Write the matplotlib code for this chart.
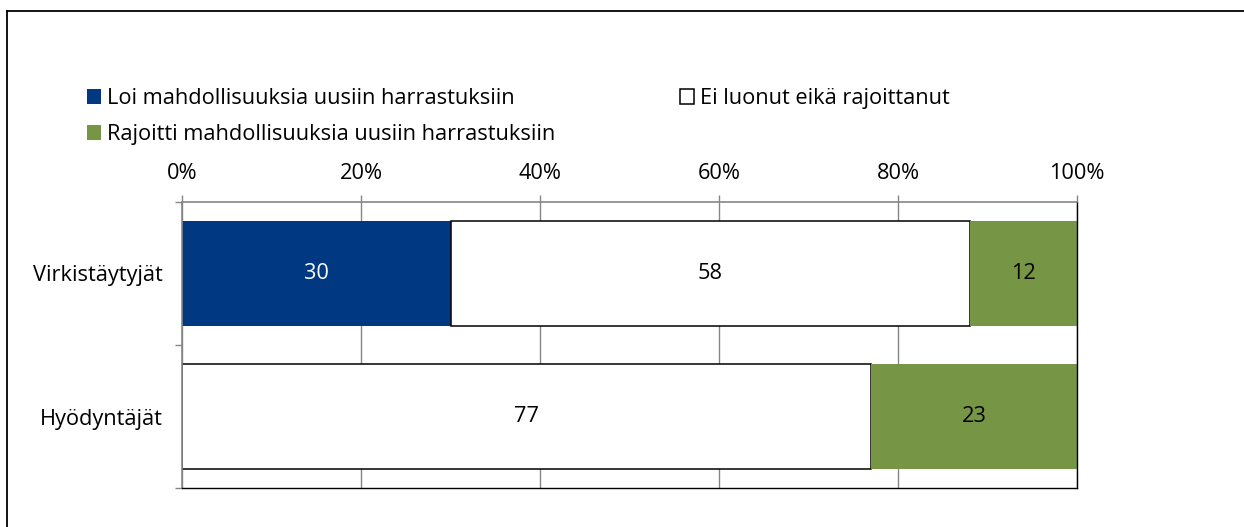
import numpy as np
import matplotlib
matplotlib.use("Agg")
import matplotlib.pyplot as plt
from matplotlib.lines import Line2D

plt.rcParams['font.family'] = ['Open Sans', 'DejaVu Sans']

# Data
groups = ["Virkistäytyjät", "Hyödyntäjät"]
series = ["Loi mahdollisuuksia uusiin harrastuksiin",
          "Ei luonut eikä rajoittanut",
          "Rajoitti mahdollisuuksia uusiin harrastuksiin"]
loi = [30, 0]
ei = [58, 77]
rajoitti = [12, 23]
x_ticks = [0, 20, 40, 60, 80, 100]

W, H = 1244, 527
fig = plt.figure(figsize=(W / 100, H / 100), dpi=100)
ax = fig.add_axes([182 / W, 1 - 488 / H, (1077 - 182) / W, (488 - 202) / H])

blue = "#003882"
green = "#779645"
grid_gray = "#868686"
fs = 15.7

y = np.arange(len(groups))
h = 0.73
left = np.zeros(len(groups))
b1 = ax.barh(y, loi, height=h, left=left, color=blue, edgecolor="none", zorder=2)
left += loi
b2 = ax.barh(y, ei, height=h, left=left, color="white", edgecolor="black",
             linewidth=1.1, zorder=2)
left += ei
b3 = ax.barh(y, rajoitti, height=h, left=left, color=green, edgecolor="none", zorder=2)

for b, vals, col in [(b1, loi, "white"), (b2, ei, "black"), (b3, rajoitti, "black")]:
    labels = [str(v) if v > 0 else "" for v in vals]
    ax.bar_label(b, labels=labels, label_type="center", color=col, fontsize=fs)

ax.set_xlim(0, 100)
ax.set_ylim(len(groups) - 0.5, -0.5)

ax.xaxis.tick_top()
ax.set_xticks(x_ticks)
ax.set_xticklabels([f"{t}%" for t in x_ticks])
ax.tick_params(axis="x", which="major", length=5, width=1.0, color=grid_gray,
               labelsize=fs, pad=8, direction="out")
ax.grid(axis="x", color=grid_gray, linewidth=1.0, zorder=0)
ax.set_axisbelow(True)

# category boundaries as ticks, labels centred on bars
ax.set_yticks(np.arange(-0.5, len(groups), 1.0))
ax.set_yticklabels([])
ax.set_yticks(y, minor=True)
ax.set_yticklabels(groups, minor=True)
ax.tick_params(axis="y", which="major", length=5, width=1.0, color=grid_gray)
ax.tick_params(axis="y", which="minor", length=0, labelsize=fs, pad=14)

ax.spines["top"].set_color(grid_gray)
ax.spines["left"].set_color(grid_gray)
ax.spines["top"].set_linewidth(1.2)
ax.spines["left"].set_linewidth(1.2)
ax.spines["right"].set_color("black")
ax.spines["bottom"].set_color("black")
ax.spines["right"].set_linewidth(1.0)
ax.spines["bottom"].set_linewidth(1.0)

# legend, ordered so columns read row-wise as in the original
handles = [b1, b3, b2]
names = [series[0], series[2], series[1]]
fig.legend(handles, names, loc="upper left", bbox_to_anchor=(87 / W, 1 - 88 / H),
           ncol=2, frameon=False, fontsize=fs, borderpad=0, borderaxespad=0,
           handlelength=0.65, handleheight=0.65, handletextpad=0.25,
           labelspacing=0.7, columnspacing=5.75)

# outer frame
fig.add_artist(Line2D([7 / W, 7 / W], [0, 1 - 11 / H], color="black", linewidth=1.3))
fig.add_artist(Line2D([7 / W, 1], [1 - 11 / H, 1 - 11 / H], color="black", linewidth=1.3))

fig.savefig("out.png", dpi=100)
